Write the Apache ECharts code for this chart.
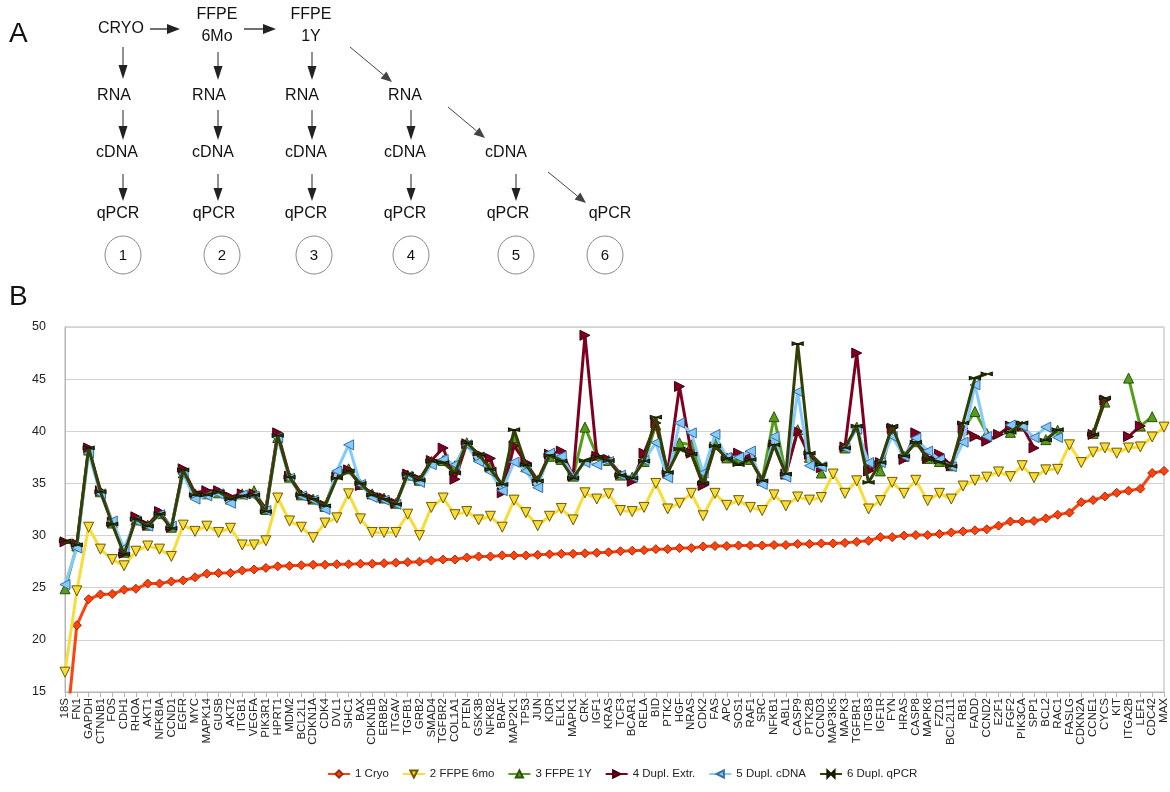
<!DOCTYPE html>
<html><head><meta charset="utf-8">
<script src="https://cdn.jsdelivr.net/npm/echarts@6/dist/echarts.min.js"></script>
<style>html,body{margin:0;padding:0;background:#fff}#c{width:1170px;height:792px}</style>
</head><body><div id="c"></div>
<script>
const genes = ['18S','FN1','GAPDH','CTNNB1','FOS','CDH1','RHOA','AKT1','NFKBIA','CCND1','EGFR','MYC','MAPK14','GUSB','AKT2','ITGB1','VEGFA','PIK3R1','HPRT1','MDM2','BCL2L1','CDKN1A','CDK4','DVL1','SHC1','BAX','CDKN1B','ERBB2','ITGAV','TGFB1','GRB2','SMAD4','TGFBR2','COL1A1','PTEN','GSK3B','NFKB2','BRAF','MAP2K1','TP53','JUN','KDR','ELK1','MAPK1','CRK','IGF1','KRAS','TCF3','BCAR1','RELA','BID','PTK2','HGF','NRAS','CDK2','FAS','APC','SOS1','RAF1','SRC','NFKB1','ABL1','CASP9','PTK2B','CCND3','MAP3K5','MAPK3','TGFBR1','ITGB3','IGF1R','FYN','HRAS','CASP8','MAPK8','FZD1','BCL2L11','RB1','FADD','CCND2','E2F1','FGF2','PIK3CA','SPP1','BCL2','RAC1','FASLG','CDKN2A','CCNE1','CYCS','KIT','ITGA2B','LEF1','CDC42','MAX'];

const seriesNames = ['1 Cryo','2 FFPE 6mo','3 FFPE 1Y','4 Dupl. Extr.','5 Dupl. cDNA','6 Dupl. qPCR'];

const cryo = [10,21.4,23.9,24.35,24.4,24.8,24.9,25.4,25.4,25.6,
25.7,26.0,26.35,26.4,26.4,26.65,26.75,26.9,27.05,27.1,
27.15,27.2,27.2,27.25,27.25,27.3,27.3,27.35,27.4,27.45,
27.5,27.6,27.7,27.7,27.9,28.0,28.0,28.1,28.1,28.1,
28.15,28.2,28.25,28.25,28.3,28.35,28.4,28.5,28.55,28.6,
28.7,28.7,28.8,28.8,28.95,29.0,29.0,29.05,29.05,29.05,
29.1,29.1,29.2,29.2,29.25,29.25,29.3,29.4,29.5,29.85,
29.85,30.0,30.05,30.05,30.15,30.3,30.4,30.5,30.6,30.95,
31.35,31.35,31.4,31.65,32.0,32.2,33.2,33.4,33.75,34.1,
34.3,34.5,36.0,36.2];

const ffpe6mo = [16.9,24.7,30.8,28.7,27.7,27.1,28.5,29.0,28.7,28.0,
31.0,30.4,30.9,30.3,30.7,29.1,29.1,29.5,33.6,31.4,
30.8,29.8,31.2,31.7,34.0,31.6,30.3,30.3,30.3,32.05,
30.0,32.7,33.6,32.0,32.3,31.5,31.85,30.8,33.4,32.2,
30.95,31.85,32.6,31.5,34.1,33.5,34.0,32.4,32.3,32.7,
35.0,32.55,33.1,34.05,31.9,34.05,32.9,33.35,32.7,32.4,
33.9,32.85,33.7,33.4,33.65,35.9,34.05,35.25,32.55,33.35,
35.1,34.05,35.3,33.35,34.05,33.5,34.75,35.3,35.6,36.1,
35.65,36.7,35.55,36.3,36.35,38.7,37.0,38.0,38.4,37.9,
38.4,38.5,39.45,40.4];

const ffpe1y = [24.9,29.0,38.2,34.2,31.2,28.4,31.5,31.0,32.1,30.8,
36.0,34.0,34.0,34.1,33.5,34.0,34.3,32.5,39.4,35.6,
33.9,33.5,32.8,36.0,36.4,34.9,34.0,33.6,33.1,35.8,
35.3,37.1,37.2,36.7,38.9,37.6,36.6,34.8,39.4,36.6,
35.3,37.6,37.3,35.7,40.4,37.7,37.2,35.8,35.6,37.1,
40.6,36.0,38.9,38.7,35.5,38.9,37.45,37.2,37.3,35.3,
41.4,35.9,40.15,37.5,36.0,null,38.4,40.4,36.7,36.2,
40.2,37.6,39.0,37.4,37.1,36.7,40.15,41.9,39.8,null,
39.9,40.5,null,39.2,40.1,null,null,39.8,42.8,null,
45.1,40.5,41.4,null];

const duplExtr = [29.4,29.2,38.4,34.3,31.3,28.3,31.8,31.0,32.3,30.8,
36.4,34.1,34.3,34.3,33.7,34.0,34.0,32.6,39.85,35.7,
34.0,33.5,32.9,35.6,36.3,34.8,34.0,33.6,33.1,35.9,
35.4,37.2,38.4,35.4,38.8,37.8,37.4,34.1,38.6,37.0,
35.3,37.8,38.1,35.7,49.2,37.6,37.3,35.9,35.2,37.9,
40.8,36.1,44.3,37.9,34.8,38.5,37.6,37.9,37.6,35.3,
38.7,35.9,40.0,37.8,36.5,null,38.5,47.5,36.2,37.0,
40.3,37.3,39.85,37.4,37.8,36.7,40.3,39.5,39.05,39.7,
40.5,40.5,38.4,null,null,null,null,39.7,43.0,null,
39.5,40.5,null,null];

const duplCDNA = [25.3,28.8,37.9,34.0,31.4,28.8,31.4,30.9,32.0,30.9,
35.9,33.5,33.8,34.0,33.1,33.9,33.8,32.4,39.4,35.5,
33.8,33.4,32.5,36.2,38.7,34.9,33.65,33.4,33.0,35.7,
35.1,36.8,37.3,36.8,38.7,37.1,36.1,34.3,37.05,36.2,
34.6,37.9,37.6,35.7,37.0,36.8,37.1,35.8,35.6,37.2,
38.9,35.55,40.8,39.85,36.0,39.7,37.5,37.5,38.1,34.9,
39.5,35.6,43.8,36.7,36.6,null,38.4,40.2,37.0,37.0,
39.5,37.6,39.35,38.1,37.3,36.6,38.95,44.45,39.5,null,
40.6,40.5,39.4,40.4,39.4,null,null,null,null,null,
null,null,null,null];

const duplQPCR = [29.5,29.1,38.4,34.2,31.1,28.2,31.6,30.9,32.1,30.7,
36.3,33.9,33.9,34.2,33.5,33.8,33.9,32.3,39.6,35.6,
33.9,33.5,32.85,35.5,36.2,35.0,33.9,33.5,33.0,35.9,
35.3,37.15,37.0,36.0,38.9,37.8,36.35,34.9,40.15,36.8,
35.25,37.7,37.15,35.5,37.2,37.55,37.2,35.8,35.5,37.15,
41.35,36.05,38.3,37.8,35.0,38.6,37.4,36.8,37.3,35.25,
38.7,35.9,48.4,37.9,36.8,null,38.4,40.5,35.1,37.0,
40.5,37.6,38.95,37.35,37.05,36.65,40.8,45.1,45.5,null,
39.9,40.8,null,39.15,40.15,null,null,39.7,43.2,null,
null,null,null,null];

const yTicks = {min:15, max:50, step:5};

// ---------- Panel A diagram (schematic, not data) ----------
const FONT = '"Liberation Sans", Arial, sans-serif';
const g = [];
function txt(t, x, y, size) {
  g.push({type:'text', x:x, y:y, style:{text:t, textAlign:'center', textVerticalAlign:'middle', font:(size||16)+'px '+FONT, fill:'#111'}});
}
function arrow(x1,y1,x2,y2,lw,color,hl,hw){
  const a=Math.atan2(y2-y1,x2-x1);
  const bx=x2-hl*Math.cos(a), by=y2-hl*Math.sin(a);
  const px=-Math.sin(a)*hw, py=Math.cos(a)*hw;
  g.push({type:'line',shape:{x1:x1,y1:y1,x2:bx,y2:by},style:{stroke:color,lineWidth:lw}});
  g.push({type:'polygon',shape:{points:[[x2,y2],[bx+px,by+py],[bx-px,by-py]]},style:{fill:color}});
}
g.push({type:'text', x:9, y:34, style:{text:'A', textVerticalAlign:'middle', font:'28px '+FONT, fill:'#111'}});
g.push({type:'text', x:9, y:297, style:{text:'B', textVerticalAlign:'middle', font:'28px '+FONT, fill:'#111'}});
txt('CRYO',121,29); txt('FFPE',217,15); txt('6Mo',217,37); txt('FFPE',311,15); txt('1Y',311,37);
[114,209,302,405].forEach(x=>txt('RNA',x,96));
[117,213,306,405,506].forEach(x=>txt('cDNA',x,153));
[118,214,306,405,508,610].forEach(x=>txt('qPCR',x,214));
arrow(150,29,180,29,1.3,'#222',13,5);
arrow(244,29,276,29,1.3,'#222',13,5);
arrow(123,47,123,79,1,'#222',14,4.5); arrow(218,52,218,80,1,'#222',14,4.5); arrow(312,52,312,80,1,'#222',14,4.5);
[123,218,312,411].forEach(x=>arrow(x,110,x,140,1,'#222',14,4.5));
[123,218,312,411,516].forEach(x=>arrow(x,174,x,201,1,'#222',13,4.5));
arrow(350,47,392,82,1,'#444',11,4.5);
arrow(448,107,485,138,1,'#444',11,4.5);
arrow(548,172,586,203,1,'#444',11,4.5);
[[123,'1'],[222,'2'],[314,'3'],[411,'4'],[516,'5'],[605,'6']].forEach(([x,t])=>{
  g.push({type:'ellipse',shape:{cx:x,cy:255,rx:18,ry:19},style:{fill:'none',stroke:'#8a8a8a',lineWidth:1}});
  txt(t,x,256,15);
});

// ---------- Panel B chart ----------
function mk(name,data,color,border,symbol,rot,size,z){
  return {name:name,type:'line',data:data,symbol:symbol,symbolRotate:rot,symbolSize:size,symbolKeepAspect:true,
    connectNulls:false,clip:true,z:z,
    lineStyle:{color:color,width:3},
    itemStyle:{color:color,borderColor:border,borderWidth:1}};
}
const bowtie = 'path://M0,0L10,5L0,10ZM20,0L10,5L20,10Z';
const chart = echarts.init(document.getElementById('c'));
chart.setOption({
  animation:false,
  backgroundColor:'#fff',
  textStyle:{fontFamily:FONT},
  graphic:g,
  grid:{left:65,right:5,top:327,bottom:100,show:true,borderColor:'#b5b5b5',borderWidth:1},
  legend:{bottom:7,left:322,itemWidth:22,itemHeight:9,itemGap:13,
    textStyle:{fontSize:11.5,color:'#222',fontFamily:FONT},data:seriesNames},
  xAxis:{type:'category',data:genes,boundaryGap:false,
    axisLine:{lineStyle:{color:'#b5b5b5'}},
    axisTick:{interval:0,length:5,lineStyle:{color:'#b5b5b5'}},
    axisLabel:{interval:0,rotate:90,fontSize:11.5,margin:6,color:'#222',fontFamily:FONT},
    splitLine:{show:false}},
  yAxis:{type:'value',min:yTicks.min,max:yTicks.max,interval:yTicks.step,
    axisLine:{show:true,lineStyle:{color:'#b5b5b5'}},axisTick:{show:false},
    axisLabel:{fontSize:12.5,color:'#222',margin:19,fontFamily:FONT},
    splitLine:{lineStyle:{color:'#d2d2d2'}}},
  series:[
    mk(seriesNames[0],cryo,'#ff420e','#9a2a0a','diamond',0,9,2),
    mk(seriesNames[1],ffpe6mo,'#f9dc35','#6b5a00','triangle',180,10,3),
    mk(seriesNames[2],ffpe1y,'#579d1c','#2c5008','triangle',0,10,4),
    mk(seriesNames[3],duplExtr,'#7e0021','#40000f','triangle',-90,10,5),
    mk(seriesNames[4],duplCDNA,'#83caff','#3a6fa0','triangle',90,10,6),
    mk(seriesNames[5],duplQPCR,'#314004','#101800',bowtie,0,[11,7],7)
  ]
});
</script></body></html>
